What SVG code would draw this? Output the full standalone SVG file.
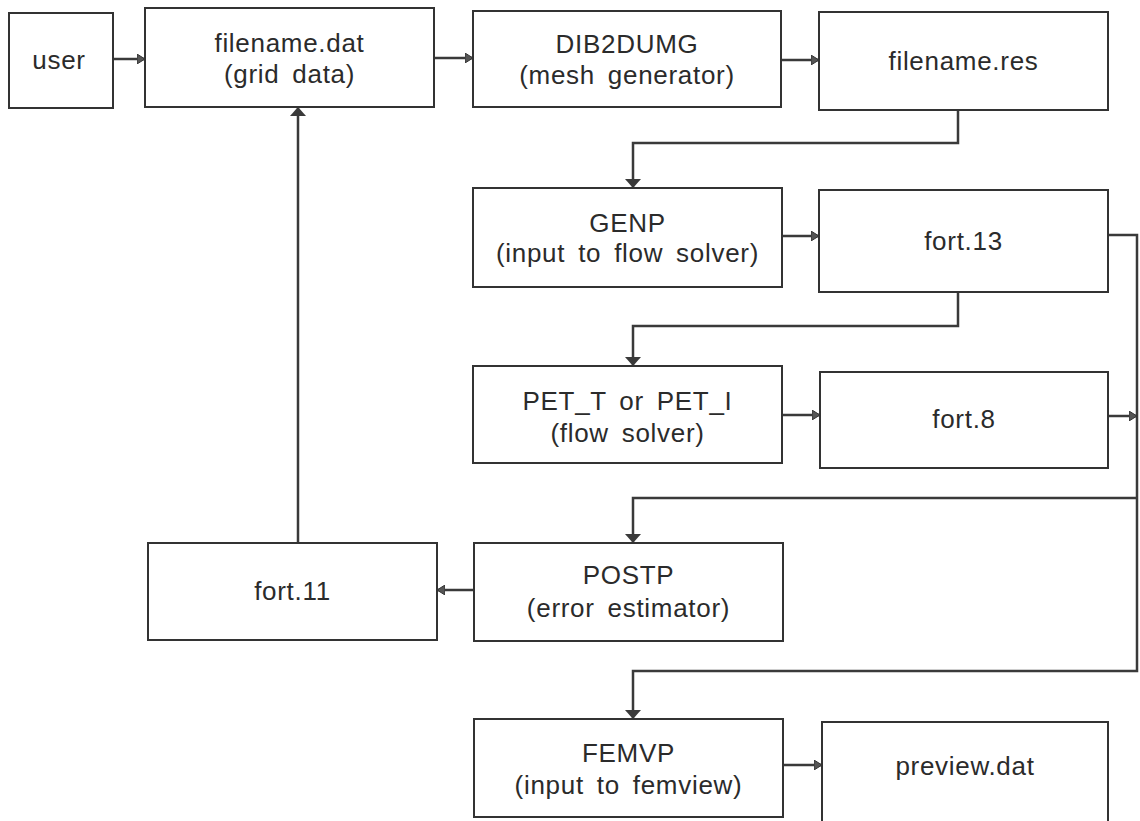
<svg xmlns="http://www.w3.org/2000/svg" width="1140" height="821" viewBox="0 0 1140 821">
<style>
  .box { fill: #ffffff; stroke: #333333; stroke-width: 2; }
  .lbl { font-family: "Liberation Sans", Arial, sans-serif; font-size: 26px; fill: #2b2b2b; text-anchor: middle; letter-spacing: 0.7px; word-spacing: 5px; }
  .conn { fill: none; stroke: #3a3a3a; stroke-width: 2.5; }
  .h { marker-end: url(#arrH); }
  .v { marker-end: url(#arrV); }
</style>
<defs>
  <marker id="arrH" viewBox="0 0 8 10" refX="8" refY="5" markerUnits="userSpaceOnUse" markerWidth="8" markerHeight="10" orient="auto">
    <path d="M0,0 L8,5 L0,10 z" fill="#555555" stroke="#333333" stroke-width="1"/>
  </marker>
  <marker id="arrV" viewBox="0 0 9 16" refX="9" refY="8" markerUnits="userSpaceOnUse" markerWidth="9" markerHeight="16" orient="auto">
    <path d="M0,0 L9,8 L0,16 z" fill="#3a3a3a"/>
  </marker>
</defs>
<rect width="1140" height="821" fill="#ffffff"/>

<g id="connectors">
  <path class="conn h" d="M113,59 H145"/>
  <path class="conn h" d="M434,58 H473"/>
  <path class="conn h" d="M781,60 H819"/>
  <path class="conn v" d="M958,110 V143 H633 V188"/>
  <path class="conn h" d="M782,236 H819"/>
  <path class="conn v" d="M958,292 V326 H633 V366"/>
  <path class="conn h" d="M782,415 H820"/>
  <path class="conn v" d="M1108,235 H1137 V671 H633 V719"/>
  <path class="conn h" d="M1108,416 H1137"/>
  <path class="conn v" d="M1137,498 H633 V543"/>
  <path class="conn h" d="M474,590 H437"/>
  <path class="conn v" d="M298,543 V107"/>
  <path class="conn h" d="M783,765 H822"/>
</g>

<g id="user">
  <rect class="box" x="9" y="13" width="104" height="95"/>
  <text class="lbl" x="59" y="69">user</text>
</g>
<g id="filename_dat">
  <rect class="box" x="145" y="8" width="289" height="99"/>
  <text class="lbl" x="289.5" y="52">filename.dat</text>
  <text class="lbl" x="289.5" y="83">(grid data)</text>
</g>
<g id="dib2dumg">
  <rect class="box" x="473" y="11" width="308" height="96"/>
  <text class="lbl" x="627" y="53">DIB2DUMG</text>
  <text class="lbl" x="627" y="84">(mesh generator)</text>
</g>
<g id="filename_res">
  <rect class="box" x="819" y="12" width="289" height="98"/>
  <text class="lbl" x="963.5" y="70">filename.res</text>
</g>
<g id="genp">
  <rect class="box" x="473" y="188" width="309" height="99"/>
  <text class="lbl" x="627.5" y="232">GENP</text>
  <text class="lbl" x="627.5" y="262">(input to flow solver)</text>
</g>
<g id="fort13">
  <rect class="box" x="819" y="190" width="289" height="102"/>
  <text class="lbl" x="963.5" y="250">fort.13</text>
</g>
<g id="pet">
  <rect class="box" x="473" y="366" width="309" height="97"/>
  <text class="lbl" x="627.5" y="410">PET_T or PET_I</text>
  <text class="lbl" x="627.5" y="442">(flow solver)</text>
</g>
<g id="fort8">
  <rect class="box" x="820" y="372" width="288" height="96"/>
  <text class="lbl" x="964" y="428">fort.8</text>
</g>
<g id="postp">
  <rect class="box" x="474" y="543" width="309" height="98"/>
  <text class="lbl" x="628.5" y="584">POSTP</text>
  <text class="lbl" x="628.5" y="617">(error estimator)</text>
</g>
<g id="fort11">
  <rect class="box" x="148" y="543" width="289" height="97"/>
  <text class="lbl" x="292.5" y="600">fort.11</text>
</g>
<g id="femvp">
  <rect class="box" x="474" y="719" width="309" height="98"/>
  <text class="lbl" x="628.5" y="762">FEMVP</text>
  <text class="lbl" x="628.5" y="794">(input to femview)</text>
</g>
<g id="preview_dat">
  <rect class="box" x="822" y="722" width="286" height="110"/>
  <text class="lbl" x="965" y="775">preview.dat</text>
</g>
</svg>
